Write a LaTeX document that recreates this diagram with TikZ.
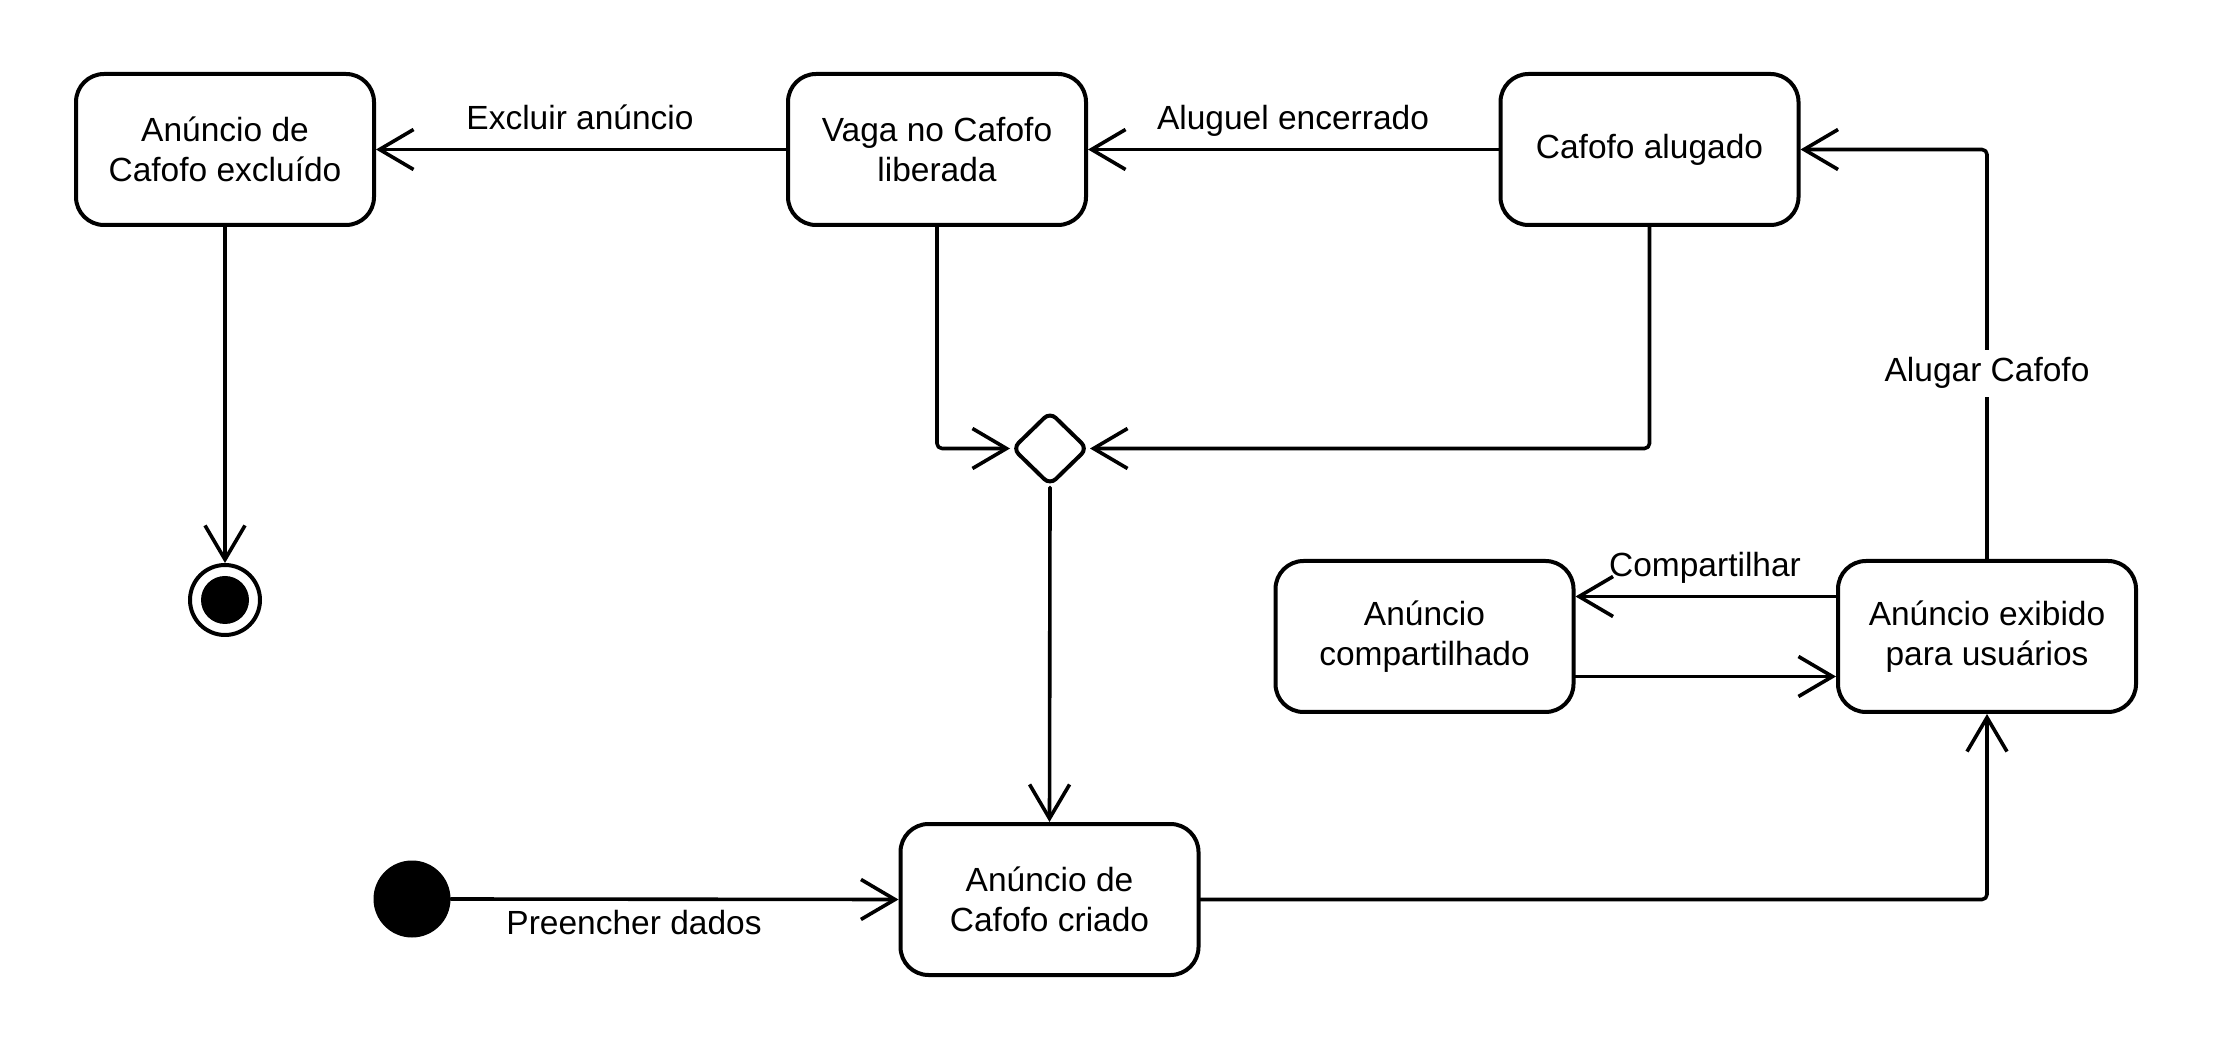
\documentclass[tikz,border=0pt]{standalone}
\usepackage{fontspec}
\setmainfont{Liberation Sans}
\usetikzlibrary{arrows.meta}
\usetikzlibrary{positioning}
\usetikzlibrary{shapes.geometric}

\begin{document}
\begin{tikzpicture}[line cap=round,line join=round,x=1pt,y=1pt,
  >={Straight Barb[length=34pt,width=40pt]},
  state/.style={draw,line width=4pt,rounded corners=28pt,minimum width=298pt,minimum height=151pt,inner sep=0pt,align=center,font=\fontsize{33.5}{40}\selectfont},
  lbl/.style={inner sep=0pt,anchor=base,font=\fontsize{33.5}{40}\selectfont},
  trans/.style={->,line width=3.6pt,rounded corners=5pt}]
\useasboundingbox (0,0) rectangle (2213,1050);
% states
\node[state] (excluido) at (225,900.5) {Anúncio de\\Cafofo excluído};
\node[state] (vaga) at (937,900.5) {Vaga no Cafofo\\liberada};
\node[state] (alugado) at (1649.5,900.5) {Cafofo alugado};
\node[state] (criado) at (1049.5,150.5) {Anúncio de\\Cafofo criado};
\node[state] (compart) at (1424.5,413.5) {Anúncio\\compartilhado};
\node[state] (exibido) at (1987,413.5) {Anúncio exibido\\para usuários};
\node[draw,diamond,line width=4pt,rounded corners=8pt,inner sep=0pt,minimum width=76pt,minimum height=74pt] (juncao) at (1050,601.5) {};
\node[draw,circle,line width=4pt,inner sep=0pt,minimum size=70pt] (fim) at (225,450) {};
\fill [color=black] (fim.center) circle (24pt);
\node[circle,fill=black,inner sep=0pt,minimum size=77pt] (inicio) at (412,151) {};
% transitions
\draw [trans] (vaga.west) -- (excluido.east);
\draw [trans] (alugado.west) -- (vaga.east);
\draw [trans] (exibido.north) |- (alugado.east);
\draw [trans] (vaga.south) |- (juncao.west);
\draw [trans] (alugado.south) |- (juncao.east);
\draw [trans] (juncao.south) -- (criado.north);
\draw [trans] (excluido.south) -- (fim.north);
\draw [trans] (inicio.east) -- (criado.west);
\draw [trans] (criado.east) -| (exibido.south);
\draw [trans] ([yshift=40pt]exibido.west) -- ([yshift=40pt]compart.east);
\draw [trans] ([yshift=-40pt]compart.east) -- ([yshift=-40pt]exibido.west);
% labels
\node[lbl] (lexcluir) at (580,920) {Excluir anúncio};
\node[lbl] (lencerrado) at (1293,920) {Aluguel encerrado};
\node[lbl,fill=white,inner xsep=4pt,inner ysep=8pt] (lalugar) at (1987,668) {Alugar Cafofo};
\node[lbl] (lcompart) at (1705,473.5) {Compartilhar};
\node[lbl] (lpreencher) at (634,116) {Preencher dados};
\end{tikzpicture}
\end{document}
